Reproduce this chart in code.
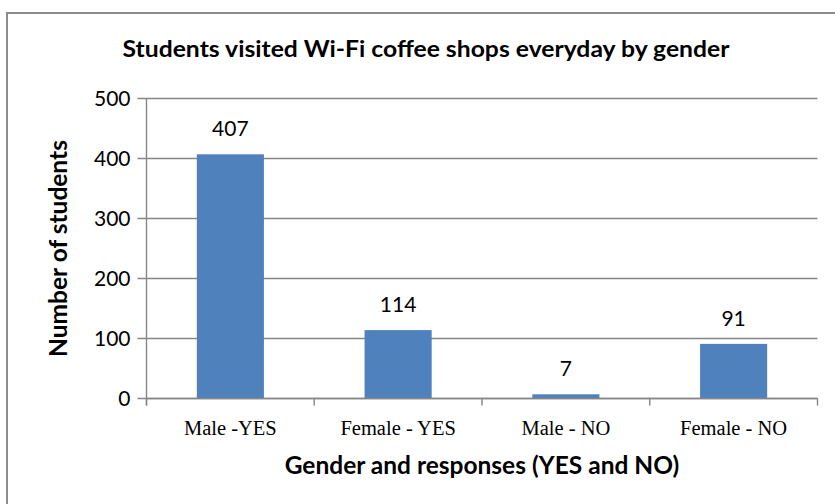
<!DOCTYPE html>
<head>
  <meta charset="utf-8" />
  <script src="https://d3js.org/d3.v7.min.js"></script>
  <style>
    body {
      margin: 0;
      background: #fff;
    }
    text {
      font-family: Lato, "Open Sans", sans-serif;
    }
  </style>
</head>

<body>
  <script>
    var categories = ["Male -YES", "Female - YES", "Male - NO", "Female - NO"];
    var students = [407, 114, 7, 91];
    var yTicks = [0, 100, 200, 300, 400, 500];

    var width = 835,
      height = 504;
    var margin = { top: 98.5, right: 17.5, bottom: 105.5, left: 146.5 };

    var svg = d3
      .select("body")
      .append("svg")
      .attr("width", width)
      .attr("height", height);

    // cadre du graphique
    svg
      .append("rect")
      .attr("x", 7)
      .attr("y", 13)
      .attr("width", width + 20)
      .attr("height", height + 20)
      .attr("fill", "none")
      .attr("stroke", "#8c8c8c")
      .attr("stroke-width", 2);

    var x = d3
      .scaleBand()
      .domain(categories)
      .range([margin.left, width - margin.right])
      .paddingInner(0.6)
      .paddingOuter(0.3);

    var y = d3
      .scaleLinear()
      .domain([0, 500])
      .range([height - margin.bottom, margin.top]);

    // grille
    svg
      .append("g")
      .selectAll("line")
      .data(yTicks)
      .join("line")
      .attr("x1", margin.left - 9)
      .attr("x2", width - margin.right)
      .attr("y1", (d) => y(d))
      .attr("y2", (d) => y(d))
      .attr("stroke", "#868686")
      .attr("stroke-width", 1.4);

    svg
      .append("g")
      .selectAll("text")
      .data(yTicks)
      .join("text")
      .attr("x", margin.left - 16)
      .attr("y", (d) => y(d))
      .attr("dy", "0.36em")
      .attr("text-anchor", "end")
      .attr("font-size", 21)
      .attr("fill", "#000")
      .text((d) => d);

    // barres
    svg
      .append("g")
      .selectAll("rect")
      .data(students)
      .join("rect")
      .attr("x", (d, i) => x(categories[i]))
      .attr("width", x.bandwidth())
      .attr("y", (d) => y(d))
      .attr("height", (d) => y(0) - y(d))
      .attr("fill", "#4f81bd");

    svg
      .append("g")
      .selectAll("text")
      .data(students)
      .join("text")
      .attr("x", (d, i) => x(categories[i]) + x.bandwidth() / 2)
      .attr("y", (d) => y(d) - 18)
      .attr("text-anchor", "middle")
      .attr("font-size", 21)
      .attr("fill", "#000")
      .text((d) => d);

    // axe x
    var gx = svg
      .append("g")
      .attr("transform", "translate(0," + y(0) + ")");
    gx.append("line")
      .attr("x1", margin.left)
      .attr("x2", width - margin.right)
      .attr("stroke", "#868686")
      .attr("stroke-width", 1.4);
    var bounds = categories.map((c) => x(c) - (x.step() * x.paddingInner()) / 2);
    bounds.push(width - margin.right);
    gx.selectAll(".tk")
      .data(bounds)
      .join("line")
      .attr("class", "tk")
      .attr("x1", (d) => d)
      .attr("x2", (d) => d)
      .attr("y1", 0)
      .attr("y2", 7)
      .attr("stroke", "#868686")
      .attr("stroke-width", 1.4);
    gx.selectAll(".lbl")
      .data(categories)
      .join("text")
      .attr("class", "lbl")
      .attr("x", (d) => x(d) + x.bandwidth() / 2)
      .attr("y", 36)
      .attr("text-anchor", "middle")
      .style("font-family", "'Liberation Serif', 'DejaVu Serif', serif")
      .attr("font-size", 20.5)
      .attr("fill", "#000")
      .text((d) => d);

    // ligne verticale
    svg
      .append("line")
      .attr("x1", margin.left)
      .attr("x2", margin.left)
      .attr("y1", margin.top)
      .attr("y2", y(0) + 7)
      .attr("stroke", "#868686")
      .attr("stroke-width", 1.4);

    // titres
    svg
      .append("text")
      .attr("x", 426)
      .attr("y", 57)
      .attr("text-anchor", "middle")
      .attr("font-size", 22)
      .attr("font-weight", "bold")
      .attr("textLength", 607)
      .attr("lengthAdjust", "spacingAndGlyphs")
      .text("Students visited Wi-Fi coffee shops everyday by gender");

    svg
      .append("text")
      .attr("x", (margin.left + width - margin.right) / 2)
      .attr("y", 474)
      .attr("text-anchor", "middle")
      .attr("font-size", 24.5)
      .attr("font-weight", "bold")
      .text("Gender and responses (YES and NO)");

    svg
      .append("text")
      .attr("transform", "translate(67," + y(250) + ") rotate(-90)")
      .attr("text-anchor", "middle")
      .attr("font-size", 24.5)
      .attr("font-weight", "bold")
      .text("Number of students");
  </script>
</body>
